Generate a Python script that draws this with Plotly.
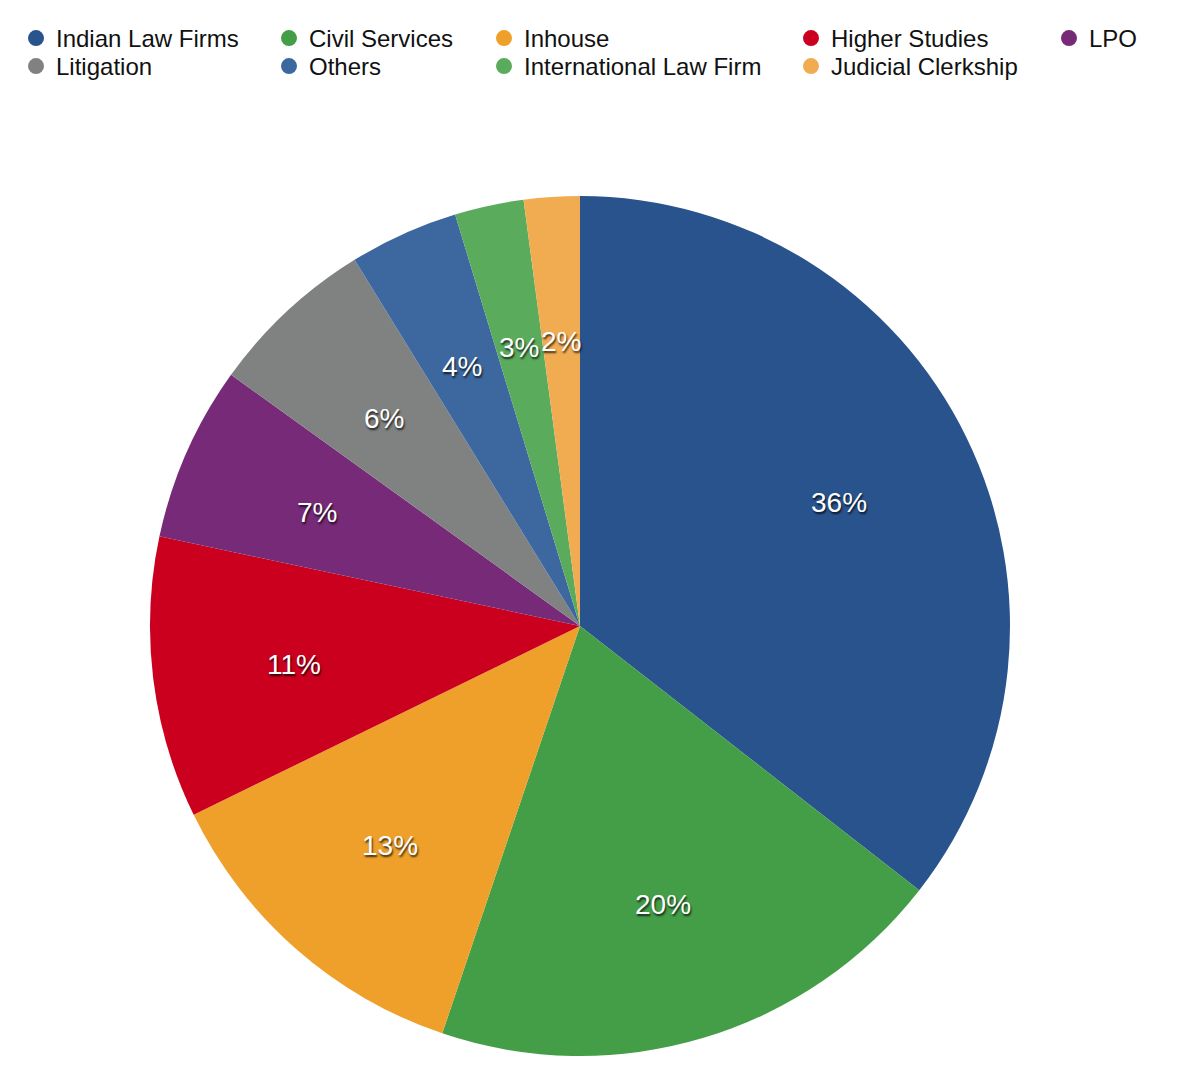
import numpy as np
import plotly.graph_objects as go

# data (share of graduates, %)
labels = ["Indian Law Firms", "Civil Services", "Inhouse", "Higher Studies", "LPO",
          "Litigation", "Others", "International Law Firm", "Judicial Clerkship"]
values = [35.6, 19.7, 12.6, 10.6, 6.6, 6.3, 4.1, 2.6, 2.1]
colors = ["#29538d", "#439e47", "#eea02a", "#ca001e", "#762a77",
          "#7f8281", "#3d689f", "#5aab5c", "#f1ac52"]

# legend layout as in the reference: two rows, five columns
legend_rows = [
    ["Indian Law Firms", "Civil Services", "Inhouse", "Higher Studies", "LPO"],
    ["Litigation", "Others", "International Law Firm", "Judicial Clerkship"],
]
col_px = [8, 261, 476, 783, 1041]
row_px = [8, 36]

W, H = 1200, 1076
cx_px, cy_px, r_px = 572, 618, 430
dom_x = [(cx_px - r_px) / W, (cx_px + r_px) / W]
dom_y = [(H - cy_px - r_px) / H, (H - cy_px + r_px) / H]

fig = go.Figure()
fig.add_trace(go.Pie(
    labels=labels,
    values=values,
    marker=dict(colors=colors, line=dict(width=0)),
    sort=False,
    direction="clockwise",
    rotation=0,
    textinfo="none",
    hoverinfo="label+percent",
    showlegend=False,
    domain=dict(x=dom_x, y=dom_y),
))

# legend entries, one small legend per entry so the columns line up
color_of = dict(zip(labels, colors))
legend_style = dict(
    orientation="v", xanchor="left", yanchor="top",
    font=dict(family="Liberation Sans, Arial, sans-serif", size=24, color="#111111"),
    bgcolor="rgba(0,0,0,0)", itemwidth=30,
)
layout_legends = {}
n = 0
for ri, row in enumerate(legend_rows):
    for ci, name in enumerate(row):
        n += 1
        key = "legend" if n == 1 else "legend%d" % n
        fig.add_trace(go.Scatter(
            x=[None], y=[None], mode="markers", name=name,
            marker=dict(color=color_of[name], size=16, symbol="circle"),
            legend=key, showlegend=True, hoverinfo="skip",
        ))
        layout_legends[key] = dict(legend_style, x=col_px[ci] / W, y=1 - row_px[ri] / H)

# percent labels at the middle of each slice
vals = np.array(values)
frac = vals / vals.sum()
mid = (np.cumsum(frac) - frac / 2) * 2 * np.pi
r_lab = 0.67 * r_px
for f, a in zip(frac, mid):
    px = cx_px + r_lab * np.sin(a)
    py = cy_px - r_lab * np.cos(a)
    fig.add_annotation(
        x=px / W, y=1 - py / H, xref="paper", yref="paper",
        xanchor="center", yanchor="middle", yshift=-3,
        text="%d%%" % round(f * 100), showarrow=False,
        font=dict(family="Liberation Sans, Arial, sans-serif", size=28, color="white",
                  shadow="1px 2px 2px rgba(0,0,0,0.75)"),
    )

fig.update_layout(
    width=W, height=H,
    margin=dict(l=0, r=0, t=0, b=0),
    paper_bgcolor="white",
    plot_bgcolor="white",
    xaxis=dict(visible=False),
    yaxis=dict(visible=False),
    **layout_legends,
)

fig.write_html("out.html")
